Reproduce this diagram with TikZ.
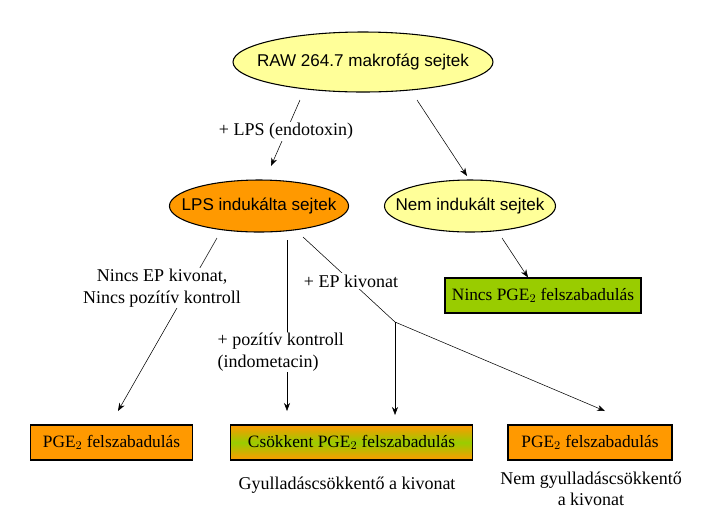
\documentclass[tikz,border=0pt]{standalone}
\usepackage{fontspec}
\setmainfont{Liberation Serif}
\setsansfont{Liberation Sans}
\usetikzlibrary{arrows.meta,shapes.geometric}

\definecolor{paleyellow}{RGB}{255,255,153}
\definecolor{lpsorange}{RGB}{255,153,0}
\definecolor{pgegreen}{RGB}{153,204,0}

\tikzset{
  cell/.style={ellipse,draw,thick,font=\sffamily\fontsize{12.8}{15}\selectfont,inner xsep=-10.5pt,inner ysep=0pt},
  result/.style={draw,thick,minimum height=26.25pt,font=\fontsize{13}{15}\selectfont,inner sep=0pt},
  lbl/.style={font=\fontsize{13.5}{16}\selectfont,align=center,fill=white,inner sep=1pt},
  arr/.style={-{Stealth[length=6pt,width=4.5pt]}},
}

\begin{document}
\begin{tikzpicture}[x=0.75pt,y=-0.75pt]
\useasboundingbox (0,0) rectangle (720,519);

\node[cell,fill=paleyellow,minimum height=45pt] (raw) at (363,62) {RAW 264.7 makrofág sejtek};
\node[cell,fill=lpsorange,minimum height=39pt] (lps) at (259,206) {LPS indukálta sejtek};
\node[cell,fill=paleyellow,minimum height=39pt] (nem) at (470,206) {Nem indukált sejtek};

\node[result,fill=pgegreen,minimum width=147pt] (nincs) at (543,295.5) {Nincs PGE$_2$ felszabadulás};
\node[result,fill=lpsorange,minimum width=122pt] (pgea) at (111.5,442.5) {PGE$_2$ felszabadulás};
\node[result,minimum width=181pt,top color=lpsorange,bottom color=lpsorange,middle color=pgegreen] (csokk) at (351.5,442.5) {Csökkent PGE$_2$ felszabadulás};
\node[result,fill=lpsorange,minimum width=123pt] (pgeb) at (590,442.5) {PGE$_2$ felszabadulás};

\coordinate (split) at (395,322);

% connectors
\draw[arr] (300,100) -- (271,166);
\draw[arr] (417,100) -- (467,176);
\draw[arr] (502,238) -- (nincs.north -| 528,0);
\draw[arr] (217,238) -- (118,411);
\draw[arr] (287,240) -- (287,411);
\draw (303,237) -- (split);
\draw[arr] (split) -- (395,415);
\draw[arr] (split) -- (605,411);

% labels
\node[lbl] at (286,131) {+ LPS (endotoxin)};
\node[lbl] at (162,288) {Nincs EP kivonat,\\Nincs pozítív kontroll};
\node[lbl,align=left,anchor=west] at (216,352) {+ pozítív kontroll\\(indometacin)};
\node[lbl] at (351,281) {+ EP kivonat};
\node[lbl] at (347,485) {Gyulladáscsökkentő a kivonat};
\node[lbl] at (591,489) {Nem gyulladáscsökkentő\\a kivonat};
\end{tikzpicture}
\end{document}
